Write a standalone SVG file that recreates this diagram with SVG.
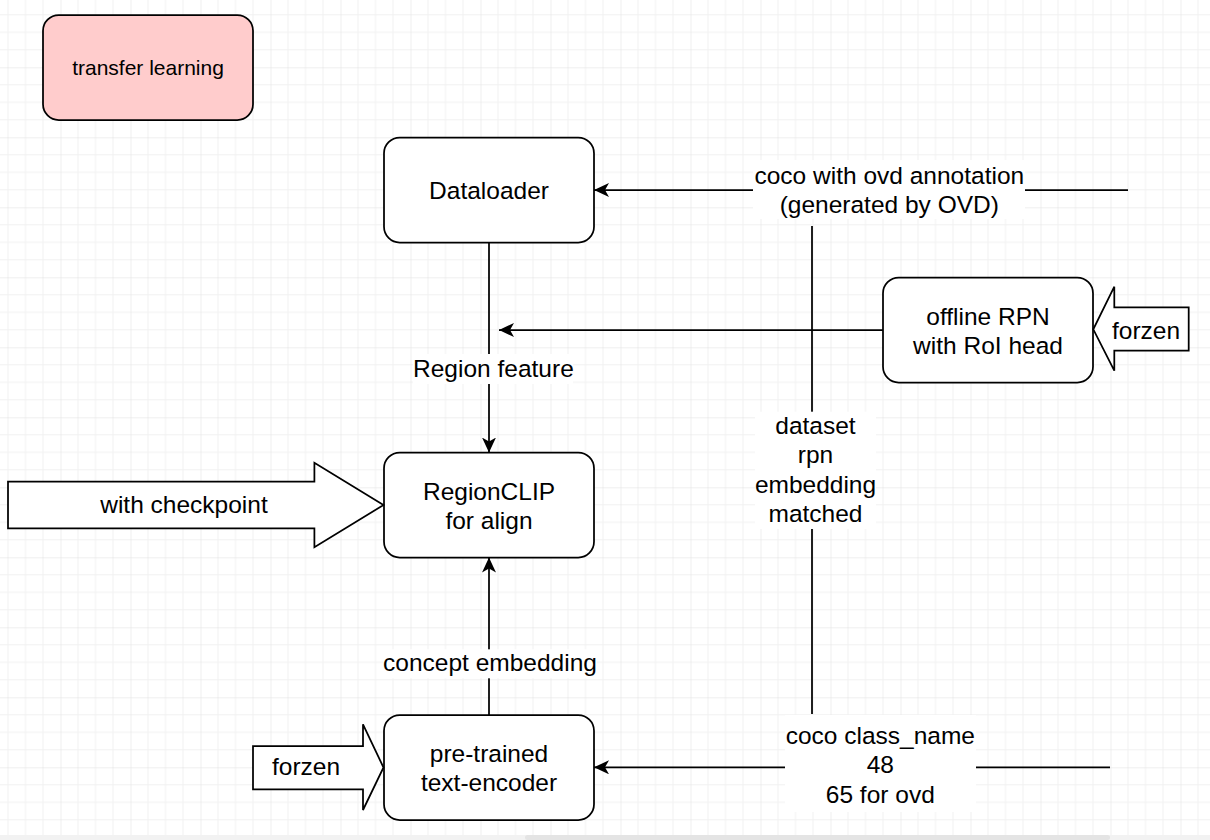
<svg xmlns="http://www.w3.org/2000/svg" width="1210" height="840" viewBox="0 0 1210 840">
  <defs>
    <pattern id="grid" patternUnits="userSpaceOnUse" x="60.5" y="67.3" width="70" height="70">
      <path d="M17.5,0V70M35,0V70M52.5,0V70M0,17.5H70M0,35H70M0,52.5H70" stroke="#f1f1f1" stroke-width="1" fill="none"/>
      <path d="M0,0V70M0,0H70" stroke="#e0e0e0" stroke-width="1" fill="none"/>
    </pattern>
    <marker id="arrow" markerUnits="userSpaceOnUse" viewBox="0 0 15 14" markerWidth="15" markerHeight="14" refX="15" refY="7" orient="auto">
      <path d="M15,7 L0,0 L4,7 L0,14 Z" fill="#000"/>
    </marker>
    <style>
      .box { fill: #ffffff; stroke: #000; stroke-width: 1.75; }
      .pink { fill: #ffcccc; }
      .blk { fill: #ffffff; stroke: #000; stroke-width: 1.75; stroke-linejoin: miter; }
      .edge { fill: none; stroke: #000; stroke-width: 1.75; }
      .lbg { fill: #ffffff; }
      text { font-family: "Liberation Sans", Arial, sans-serif; font-size: 24.5px; fill: #000; text-anchor: middle; }
      .small { font-size: 21px; }
    </style>
  </defs>

  <rect x="0" y="0" width="1210" height="835" fill="#ffffff"/>
  <rect x="0" y="0" width="1210" height="835" fill="url(#grid)"/>
  <rect x="0" y="835" width="1210" height="5" fill="#f2f2f2"/>
  <rect x="525" y="835" width="585" height="5" rx="2.5" fill="#e4e4e4"/>

  <g id="connectors">
    <line class="edge" x1="489" y1="242.5" x2="489" y2="452.5" marker-end="url(#arrow)"/>
    <line class="edge" x1="883" y1="330" x2="499" y2="330" marker-end="url(#arrow)"/>
    <line class="edge" x1="1128" y1="190" x2="594" y2="190" marker-end="url(#arrow)"/>
    <line class="edge" x1="812" y1="226" x2="812" y2="714"/>
    <line class="edge" x1="1110" y1="767.3" x2="594" y2="767.3" marker-end="url(#arrow)"/>
    <line class="edge" x1="489" y1="715" x2="489" y2="557.5" marker-end="url(#arrow)"/>

    <g id="label-region-feature">
      <rect class="lbg" x="413" y="354" width="160" height="30"/>
      <text x="493.4" y="377">Region feature</text>
    </g>
    <g id="label-coco-ovd">
      <rect class="lbg" x="753" y="160" width="272" height="59"/>
      <text x="889.3" y="183.5">coco with ovd annotation</text>
      <text x="889.3" y="213.3">(generated by OVD)</text>
    </g>
    <g id="label-dataset">
      <rect class="lbg" x="755" y="411.7" width="121" height="117.3"/>
      <text x="815.5" y="433.5">dataset</text>
      <text x="815.5" y="463">rpn</text>
      <text x="815.5" y="492.6">embedding</text>
      <text x="815.5" y="522.2">matched</text>
    </g>
    <g id="label-coco-class">
      <rect class="lbg" x="785" y="715" width="191" height="97"/>
      <text x="880.3" y="743.5">coco class_name</text>
      <text x="880.3" y="773.2">48</text>
      <text x="880.3" y="802.7">65 for ovd</text>
    </g>
    <g id="label-concept-embedding">
      <rect class="lbg" x="383" y="649.3" width="214" height="29"/>
      <text x="490" y="671">concept embedding</text>
    </g>
  </g>

  <g id="node-transfer-learning">
    <rect class="box pink" x="43" y="15" width="210" height="105" rx="15.75"/>
    <text class="small" x="148" y="75.3">transfer learning</text>
  </g>

  <g id="node-dataloader">
    <rect class="box" x="384" y="137.5" width="210" height="105" rx="15.75"/>
    <text x="489" y="199">Dataloader</text>
  </g>

  <g id="node-offline-rpn">
    <rect class="box" x="883" y="277.5" width="210" height="105" rx="15.75"/>
    <text x="988" y="325">offline RPN</text>
    <text x="988" y="354.3">with RoI head</text>
  </g>

  <g id="node-regionclip">
    <rect class="box" x="384" y="452.5" width="210" height="105" rx="15.75"/>
    <text x="489" y="499.7">RegionCLIP</text>
    <text x="489" y="529">for align</text>
  </g>

  <g id="node-text-encoder">
    <rect class="box" x="384" y="715" width="210" height="105" rx="15.75"/>
    <text x="489" y="761.7">pre-trained</text>
    <text x="489" y="791">text-encoder</text>
  </g>

  <g id="node-with-checkpoint">
    <path class="blk" d="M8,481.7 L314.4,481.7 L314.4,462.7 L383.5,505 L314.4,547.3 L314.4,528.3 L8,528.3 Z"/>
    <text x="184" y="513">with checkpoint</text>
  </g>

  <g id="node-forzen-left">
    <path class="blk" d="M253,746 L363,746 L363,724.3 L383.5,767.5 L363,810 L363,789.3 L253,789.3 Z"/>
    <text x="306" y="774.5">forzen</text>
  </g>

  <g id="node-forzen-right">
    <path class="blk" d="M1188.7,307.3 L1114.3,307.3 L1114.3,286.7 L1093.3,329.3 L1114.3,370.7 L1114.3,350.7 L1188.7,350.7 Z"/>
    <text x="1146" y="338.5">forzen</text>
  </g>
</svg>
